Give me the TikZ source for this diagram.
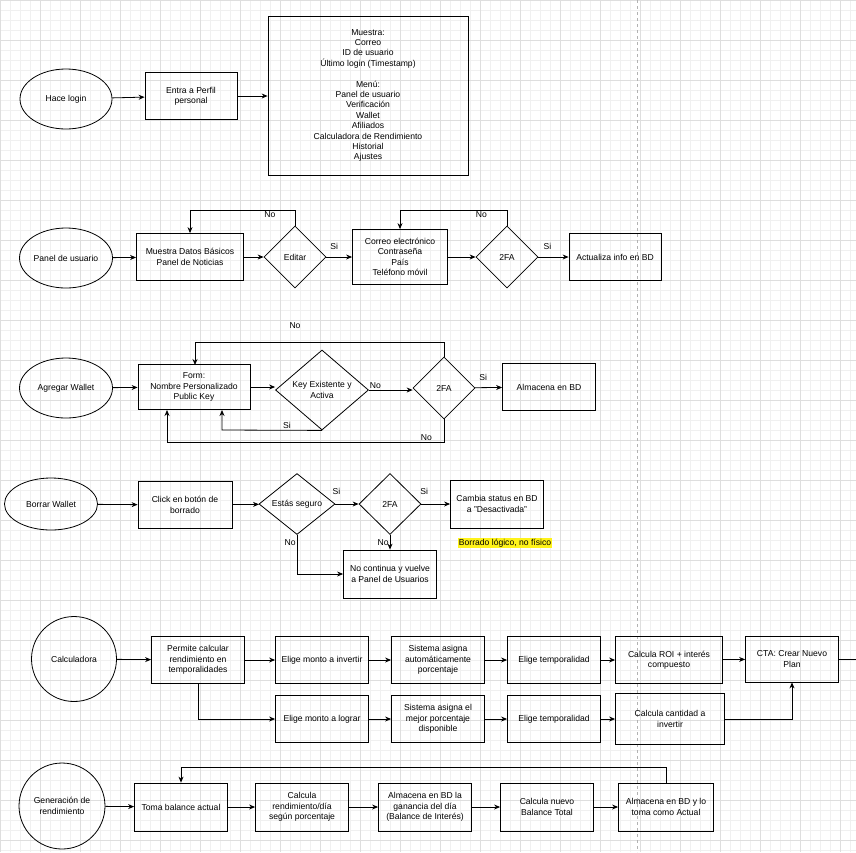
\documentclass[tikz,border=0pt]{standalone}
\usepackage{fontspec}
\setmainfont{Liberation Sans}
\usetikzlibrary{positioning,shapes.geometric,arrows.meta}
\begin{document}
\begin{tikzpicture}[
    x=1pt, y=-1pt,
    font=\fontsize{8.6}{10.4}\selectfont,
    >={Stealth[length=6pt,width=5pt]},
    flow/.style={->, line width=0.8pt},
    line/.style={line width=0.8pt},
    box/.style={draw, line width=0.8pt, rectangle, align=center, inner sep=1pt,
        minimum width=93pt, minimum height=47pt},
    start/.style={draw, line width=0.8pt, ellipse, align=center, inner sep=0pt,
        minimum width=93pt, minimum height=60pt},
    round/.style={draw, line width=0.8pt, circle, align=center, inner sep=0pt,
        minimum size=85pt},
    ask/.style={draw, line width=0.8pt, diamond, align=center, inner sep=0pt,
        minimum width=62pt, minimum height=62pt},
    lbl/.style={inner sep=1pt}
]
    \useasboundingbox (0,0) rectangle (856,852);
    % grid background
    \foreach \k in {0,10,...,850} {
        \draw[black!6, line width=0.4pt] (\k,0) -- (\k,852);
        \draw[black!6, line width=0.4pt] (0,\k) -- (856,\k);
    }
    \foreach \k in {0,40,...,840} {
        \draw[black!13, line width=0.5pt] (\k,0) -- (\k,852);
        \draw[black!13, line width=0.5pt] (0,\k) -- (856,\k);
    }
    \draw[black!30, dashed, line width=0.6pt] (637,0) -- (637,852);

    % Hace login
    \node[start, minimum width=92pt] (login) at (66,99) {Hace login};
    \node[box, minimum width=92pt] (perfil) at (191,96) {Entra a Perfil\\personal};
    \node[box, minimum width=200pt, minimum height=159pt] (muestra) at (368,95.5)
        {Muestra:\\Correo\\ID de usuario\\Último login (Timestamp)\\[10.4pt]Menú:\\Panel de usuario\\Verificación\\Wallet\\Afiliados\\Calculadora de Rendimiento\\Historial\\Ajustes};
    \draw[flow] (login) -- (perfil);
    \draw[flow] (perfil) -- (perfil -| muestra.west);

    % Panel de usuario
    \node[start] (panel) at (66,258) {Panel de usuario};
    \node[box, minimum width=107pt] (datos) at (190,257) {Muestra Datos Básicos\\Panel de Noticias};
    \node[ask] (editar) at (295,257) {Editar};
    \node[box, minimum width=95pt, minimum height=55pt] (correo) at (400,257)
        {Correo electrónico\\Contraseña\\País\\Teléfono móvil};
    \node[ask] (fa1) at (507,257) {2FA};
    \node[box, minimum width=92pt] (actualiza) at (615,257) {Actualiza info en BD};
    \draw[flow] (panel) -- (datos);
    \draw[flow] (datos) -- (editar);
    \draw[flow] (editar) -- node[lbl, above, pos=0.3, yshift=6pt] {Si} (correo);
    \draw[flow] (correo) -- (fa1);
    \draw[flow] (fa1) -- node[lbl, above, pos=0.3, yshift=6pt] {Si} (actualiza);
    \draw[flow] (editar.north) -- (295,210) -| node[lbl, pos=0.12, below] {No} (datos.north);
    \draw[flow] (fa1.north) -- (507,210) -| node[lbl, pos=0.12, below] {No} (correo.north);

    % Agregar Wallet
    \node[start] (wallet) at (66,388) {Agregar Wallet};
    \node[box, minimum width=112pt, minimum height=45pt] (form) at (194,387)
        {Form:\\Nombre Personalizado\\Public Key};
    \node[ask, minimum width=93pt, minimum height=80pt] (key) at (322,390) {Key Existente y\\Activa};
    \node[ask] (fa2) at (444,388) {2FA};
    \node[box] (almacena) at (549,387) {Almacena en BD};
    \draw[flow] (wallet) -- (form);
    \draw[flow] (form) -- (form -| key.west);
    \draw[flow] (key.east) -- node[lbl, above, pos=0.15] {No} (key.east -| fa2.west);
    \draw[flow] (fa2) -- node[lbl, above, pos=0.3, yshift=6pt] {Si} (almacena);
    \draw[flow] (fa2.north) -- (444,342) -| (195,365);
    \node[lbl] (no3) at (295,326) {No};
    \draw[flow] (key.south) -- node[lbl, above, pos=0.35] {Si} (222,430) -- (222,410);
    \draw[flow] (fa2.south) -- (444,442) -- node[lbl, above, pos=0.02, xshift=-12pt] {No} (167,442) -- (167,410);

    % Borrar Wallet
    \node[start, minimum width=93pt, minimum height=52pt] (borrar) at (51,504) {Borrar Wallet};
    \node[box, minimum width=94pt] (click) at (185,505) {Click en botón de\\borrado};
    \node[ask, minimum width=76pt, minimum height=61pt] (seguro) at (297,504) {Estás seguro};
    \node[ask, minimum height=61pt] (fa3) at (390,504) {2FA};
    \node[box, minimum width=93pt, minimum height=48pt] (cambia) at (497,504)
        {Cambia status en BD\\a "Desactivada"};
    \node[fill=yellow!90!white, inner sep=1pt] (nota) at (505,543) {Borrado lógico, no físico};
    \node[box, minimum width=93pt, minimum height=48pt] (vuelve) at (390,574)
        {No continua y vuelve\\a Panel de Usuarios};
    \draw[flow] (borrar) -- (click);
    \draw[flow] (click) -- (seguro);
    \draw[flow] (seguro) -- node[lbl, above, pos=0.05, yshift=8pt] {Si} (fa3);
    \draw[flow] (fa3) -- node[lbl, above, pos=0.1, yshift=8pt] {Si} (cambia);
    \draw[flow] (seguro.south) -- node[lbl, left, pos=0.2] {No} (297,574) -- (vuelve.west);
    \draw[flow] (fa3.south) -- node[lbl, left, pos=0.5] {No} (vuelve.north);

    % Calculadora
    \node[round] (calc) at (74,659) {Calculadora};
    \node[box] (permite) at (198,660) {Permite calcular\\rendimiento en\\temporalidades};
    \node[box] (invertir) at (322,660) {Elige monto a invertir};
    \node[box] (auto) at (438,660) {Sistema asigna\\automáticamente\\porcentaje};
    \node[box] (temp1) at (554,660) {Elige temporalidad};
    \node[box, minimum width=107pt] (roi) at (669,660) {Calcula ROI + interés\\compuesto};
    \node[box, minimum height=46pt] (cta) at (792,659) {CTA: Crear Nuevo\\Plan};
    \coordinate (fuera) at (856,659);
    \node[box] (lograr) at (322,719) {Elige monto a lograr};
    \node[box] (mejor) at (438,719) {Sistema asigna el\\mejor porcentaje\\disponible};
    \node[box] (temp2) at (554,719) {Elige temporalidad};
    \node[box, minimum width=109pt, minimum height=51pt] (cantidad) at (670,719) {Calcula cantidad a\\invertir};
    \draw[flow] (calc) -- (permite);
    \draw[flow] (permite) -- (invertir);
    \draw[flow] (invertir) -- (auto);
    \draw[flow] (auto) -- (temp1);
    \draw[flow] (temp1) -- (roi);
    \draw[flow] (roi) -- (cta);
    \draw[line] (cta) -- (fuera);
    \draw[flow] (permite.south) |- (lograr.west);
    \draw[flow] (lograr) -- (mejor);
    \draw[flow] (mejor) -- (temp2);
    \draw[flow] (temp2) -- (cantidad);
    \draw[flow] (cantidad.east) -| (cta.south);

    % Generacion de rendimiento
    \node[round, minimum size=86pt] (gen) at (62,806) {Generación de\\rendimiento};
    \node[box, minimum height=48pt] (toma) at (181,807) {Toma balance actual};
    \node[box, minimum height=48pt] (rend) at (302,807) {Calcula\\rendimiento/día\\según porcentaje};
    \node[box, minimum height=48pt] (ganancia) at (425,807) {Almacena en BD la\\ganancia del día\\(Balance de Interés)};
    \node[box, minimum height=48pt] (nuevo) at (547,807) {Calcula nuevo\\Balance Total};
    \node[box, minimum width=95pt, minimum height=48pt] (actual) at (666,807) {Almacena en BD y lo\\toma como Actual};
    \draw[flow] (gen) -- (toma);
    \draw[flow] (toma) -- (rend);
    \draw[flow] (rend) -- (ganancia);
    \draw[flow] (ganancia) -- (nuevo);
    \draw[flow] (nuevo) -- (actual);
    \draw[flow] (actual.north) -- (666,767) -| (toma.north);
\end{tikzpicture}
\end{document}
